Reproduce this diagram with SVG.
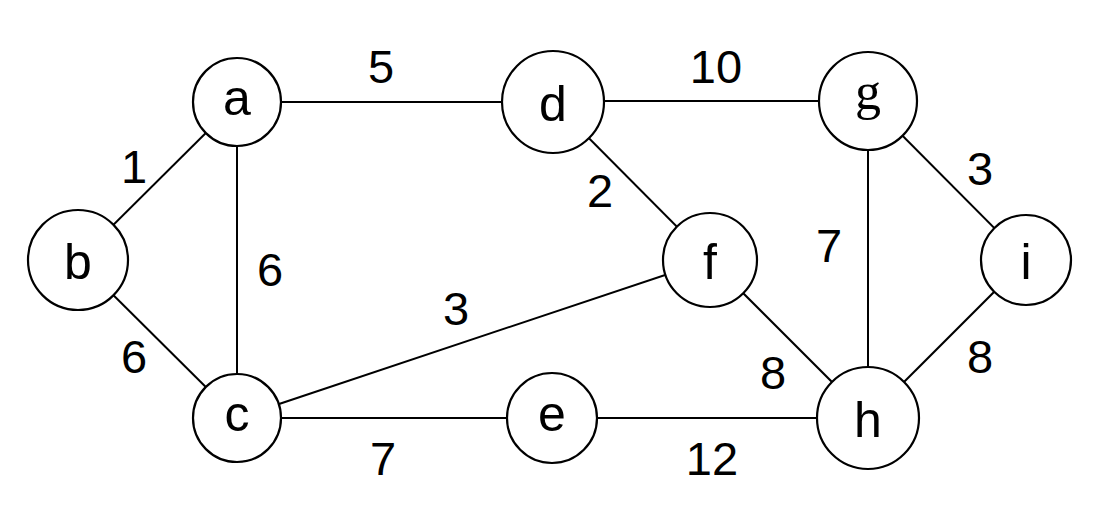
<svg xmlns="http://www.w3.org/2000/svg" width="1100" height="520" viewBox="0 0 1100 520">
<style>
.edge{stroke:#000;stroke-width:2;fill:none}
.node circle{fill:#fff;stroke:#000;stroke-width:2.2}
.node text{font-family:"Liberation Sans",Arial,sans-serif;font-size:50px;text-anchor:middle;fill:#000}
.node text.serif{font-family:"Liberation Serif","Times New Roman",serif;font-size:52px}
.lbl{font-family:"Liberation Sans",Arial,sans-serif;font-size:47px;text-anchor:middle;fill:#000}
</style>
<rect width="1100" height="520" fill="#fff"/>
<g id="connectors">
<line class="edge" x1="237" y1="102" x2="78" y2="260"/>
<line class="edge" x1="237" y1="102" x2="553" y2="102"/>
<line class="edge" x1="237" y1="102" x2="237" y2="418"/>
<line class="edge" x1="78" y1="260" x2="237" y2="418"/>
<line class="edge" x1="237" y1="418" x2="710" y2="260"/>
<line class="edge" x1="237" y1="418" x2="552" y2="418"/>
<line class="edge" x1="553" y1="101" x2="868" y2="101"/>
<line class="edge" x1="553" y1="102" x2="710" y2="260"/>
<line class="edge" x1="710" y1="260" x2="868" y2="418"/>
<line class="edge" x1="552" y1="418" x2="868" y2="418"/>
<line class="edge" x1="868" y1="101" x2="868" y2="418"/>
<line class="edge" x1="868" y1="101" x2="1026" y2="260"/>
<line class="edge" x1="1026" y1="260" x2="868" y2="418"/>
<text class="lbl" x="134" y="183">1</text>
<text class="lbl" x="381" y="83">5</text>
<text class="lbl" x="270" y="286">6</text>
<text class="lbl" x="134" y="373">6</text>
<text class="lbl" x="456" y="325">3</text>
<text class="lbl" x="383" y="475">7</text>
<text class="lbl" x="716" y="83">10</text>
<text class="lbl" x="600" y="207">2</text>
<text class="lbl" x="773" y="389">8</text>
<text class="lbl" x="712" y="475">12</text>
<text class="lbl" x="829" y="262">7</text>
<text class="lbl" x="980" y="185">3</text>
<text class="lbl" x="980" y="373">8</text>
</g>
<g id="node-a" class="node"><circle cx="237" cy="102" r="44"/><text x="237" y="115">a</text></g>
<g id="node-b" class="node"><circle cx="78" cy="260" r="50"/><text x="78" y="279">b</text></g>
<g id="node-c" class="node"><circle cx="237" cy="418" r="44"/><text x="237" y="431">c</text></g>
<g id="node-d" class="node"><circle cx="553" cy="102" r="51"/><text x="553" y="121">d</text></g>
<g id="node-e" class="node"><circle cx="552" cy="418" r="45"/><text x="552" y="431">e</text></g>
<g id="node-f" class="node"><circle cx="710" cy="260" r="47"/><text x="710" y="279">f</text></g>
<g id="node-g" class="node"><circle cx="868" cy="101" r="49"/><text class="serif" x="868" y="109">g</text></g>
<g id="node-h" class="node"><circle cx="868" cy="418" r="51"/><text x="868" y="437">h</text></g>
<g id="node-i" class="node"><circle cx="1026" cy="260" r="45"/><text x="1026" y="279">i</text></g>
</svg>
